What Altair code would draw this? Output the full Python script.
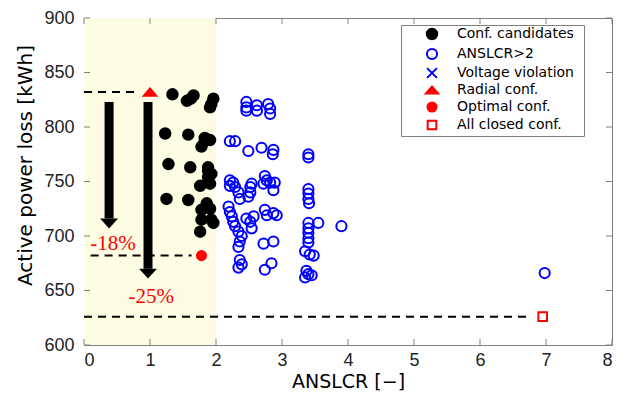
import altair as alt
import pandas as pd

# ---------------- data ----------------
categories = ["Conf. candidates", "ANSLCR>2", "Voltage violation",
              "Radial conf.", "Optimal conf.", "All closed conf."]

cand_x = [1.34, 1.56, 1.66, 1.62, 1.96, 1.91, 1.93, 1.23, 1.58, 1.83, 1.91, 1.78, 1.83,
          1.28, 1.61, 1.88, 1.88, 1.88, 1.93, 1.76, 1.91, 1.25, 1.58, 1.86, 1.86, 1.78,
          1.91, 1.93, 1.78, 1.96, 1.76]
cand_y = [830, 824, 829, 826, 826, 818, 821, 794, 793, 787, 788, 782, 790,
          766, 763, 763, 760, 754, 757, 746, 748, 734, 733, 730, 727, 724,
          725, 715, 715, 712, 704]

ansl_x = [2.46, 2.46, 2.46, 2.62, 2.62, 2.79, 2.82, 2.82,
          2.21, 2.29, 2.49, 2.69, 2.87, 2.86, 3.40, 3.40,
          2.21, 2.26, 2.21, 2.29, 2.34, 2.36, 2.52, 2.54, 2.52, 2.49, 2.74, 2.77, 2.82, 2.89, 2.87, 2.72,
          2.19, 2.21, 2.24, 2.26, 2.29, 2.34, 2.39, 2.36, 2.34, 2.46, 2.52, 2.57, 2.54, 2.74, 2.77, 2.87, 2.92, 2.72, 2.87,
          2.36, 2.39, 2.34, 2.74, 2.84,
          3.40, 3.40, 3.40, 3.41, 3.40, 3.40, 3.40, 3.40, 3.40, 3.55, 3.90, 3.35, 3.42, 3.48, 3.37, 3.40, 3.35, 3.45,
          6.98]
ansl_y = [823, 818, 815, 820, 815, 821, 817, 812,
          787, 787, 778, 781, 779, 775, 775, 772,
          751, 749, 746, 745, 740, 734, 745, 748, 740, 736, 755, 751, 749, 749, 742, 748,
          727, 722, 718, 713, 709, 704, 700, 695, 690, 716, 713, 718, 707, 724, 719, 721, 719, 693, 695,
          678, 674, 671, 669, 675,
          743, 739, 734, 730, 712, 707, 703, 698, 694, 712, 709, 686, 683, 682, 668, 665, 662, 664,
          666]

radial_x, radial_y = [1.0], [832]
optimal_x, optimal_y = [1.78], [682]
closed_x, closed_y = [6.95], [626]

x_ticks = [0, 1, 2, 3, 4, 5, 6, 7, 8]
y_ticks = [600, 650, 700, 750, 800, 850, 900]

shade_from, shade_to = [0], [2]

dash_x_from = [0, 0.1, 0]
dash_x_to = [0.8, 1.63, 6.76]
dash_y = [832, 682, 626]

arrow_x = [0.38, 0.97]
arrow_top = [823, 823]
arrow_base = [716, 670]

pct_text = ["-18%", "-25%"]
pct_x = [0.44, 1.02]
pct_y = [693, 644]

# ---------------- tables ----------------
pts = pd.concat([
    pd.DataFrame({"x": cand_x, "y": cand_y, "type": categories[0]}),
    pd.DataFrame({"x": ansl_x, "y": ansl_y, "type": categories[1]}),
    pd.DataFrame({"x": radial_x, "y": radial_y, "type": categories[3]}),
    pd.DataFrame({"x": optimal_x, "y": optimal_y, "type": categories[4]}),
    pd.DataFrame({"x": closed_x, "y": closed_y, "type": categories[5]}),
], ignore_index=True)

W, H = 528, 327
xs = alt.Scale(domain=[0, 8], nice=False, zero=False)
ys = alt.Scale(domain=[600, 900], nice=False, zero=False)
xa = alt.Axis(values=x_ticks, labelPadding=6, titleY=36, titleBaseline="middle")
ya = alt.Axis(values=y_ticks, labelPadding=10, titleX=-59, titleY=147, titleBaseline="middle")
XT = "ANSLCR [\u2212]"
YT = "Active power loss [kWh]"


def X(f):
    return alt.X(f, scale=xs, axis=xa, title=XT)


def Y(f):
    return alt.Y(f, scale=ys, axis=ya, title=YT)


TRI = "M-1.3,0.75L1.3,0.75L0,-0.75Z"
XSYM = "M-1,-1L1,1M1,-1L-1,1"

shade = alt.Chart(pd.DataFrame({"a": shade_from, "b": shade_to})).mark_rect(
    color="#FEFDE3").encode(
    x=X("a:Q"), x2="b:Q", y=alt.value(0), y2=alt.value(H))

dashes = alt.Chart(pd.DataFrame({"a": dash_x_from, "b": dash_x_to, "y": dash_y})).mark_rule(
    color="black", strokeWidth=2, strokeDash=[8, 6]).encode(
    x=X("a:Q"), x2="b:Q", y=Y("y:Q"))

arrow_df = pd.DataFrame({"x": arrow_x, "t": arrow_top, "b": arrow_base})
shafts = alt.Chart(arrow_df).mark_rule(color="black", strokeWidth=9).encode(
    x=X("x:Q"), y=Y("t:Q"), y2="b:Q")
heads = alt.Chart(arrow_df).mark_point(
    shape="M-1,0L1,0L0,1.1Z", size=324, filled=True, color="black", opacity=1).encode(
    x=X("x:Q"), y=Y("b:Q"))

pct = alt.Chart(pd.DataFrame({"x": pct_x, "y": pct_y, "t": pct_text})).mark_text(
    font="Liberation Serif", fontSize=21, color="#FF0000").encode(
    x=X("x:Q"), y=Y("y:Q"), text="t:N")

LT = "\u00a0"
points = alt.Chart(pts).mark_point(strokeWidth=2, opacity=1).encode(
    x=X("x:Q"), y=Y("y:Q"),
    shape=alt.Shape("type:N", title=LT, scale=alt.Scale(
        domain=categories, range=["circle", "circle", XSYM, TRI, "circle", "square"])),
    stroke=alt.Stroke("type:N", title=LT, scale=alt.Scale(
        domain=categories, range=["black", "#0000FF", "#0000FF", "#FF0000", "#FF0000", "#FF0000"])),
    fill=alt.Fill("type:N", title=LT, scale=alt.Scale(
        domain=categories, range=["black", "transparent", "transparent", "#FF0000", "#FF0000", "transparent"])),
    size=alt.Size("type:N", title=LT, scale=alt.Scale(
        domain=categories, range=[110, 75, 40, 240, 150, 70])),
)

xt = pd.DataFrame({"t": x_ticks})
yt = pd.DataFrame({"t": y_ticks})
tick_color = "#808080"
xt_bot = alt.Chart(xt).mark_rule(color=tick_color).encode(
    x=X("t:Q"), y=alt.value(H), y2=alt.value(H - 6))
xt_top = alt.Chart(xt).mark_rule(color=tick_color).encode(
    x=X("t:Q"), y=alt.value(0), y2=alt.value(6))
yt_left = alt.Chart(yt).mark_rule(color=tick_color).encode(
    y=Y("t:Q"), x=alt.value(0), x2=alt.value(6))
yt_right = alt.Chart(yt).mark_rule(color=tick_color).encode(
    y=Y("t:Q"), x=alt.value(W), x2=alt.value(W - 6))

chart = alt.layer(shade, dashes, shafts, heads, pct, points,
                  xt_bot, xt_top, yt_left, yt_right).properties(
    width=W, height=H,
    autosize=alt.AutoSizeParams(type="none"),
    padding={"left": 76, "top": 10, "right": 15, "bottom": 50},
).configure_view(
    stroke="#808080", strokeWidth=1
).configure_axis(
    grid=False, ticks=False, tickSize=0, domain=False,
    labelFont="Liberation Sans", labelFontSize=18, labelColor="#222222",
    titleFont="DejaVu Sans", titleFontSize=19, titleFontWeight="normal", titleColor="black"
).configure_axisY(titleFontSize=20
).configure_legend(
    orient="none", legendX=317, legendY=7, padding=2,
    symbolOffset=22, labelOffset=18, rowPadding=0,
    titleOrient="right", titlePadding=8, titleFontSize=10,
    fillColor="white", strokeColor="#808080", cornerRadius=0,
    labelFont="DejaVu Sans", labelFontSize=14, labelColor="black",
    symbolStrokeWidth=2
)

chart.save("out.html", embed_options={"renderer": "svg", "actions": False})
